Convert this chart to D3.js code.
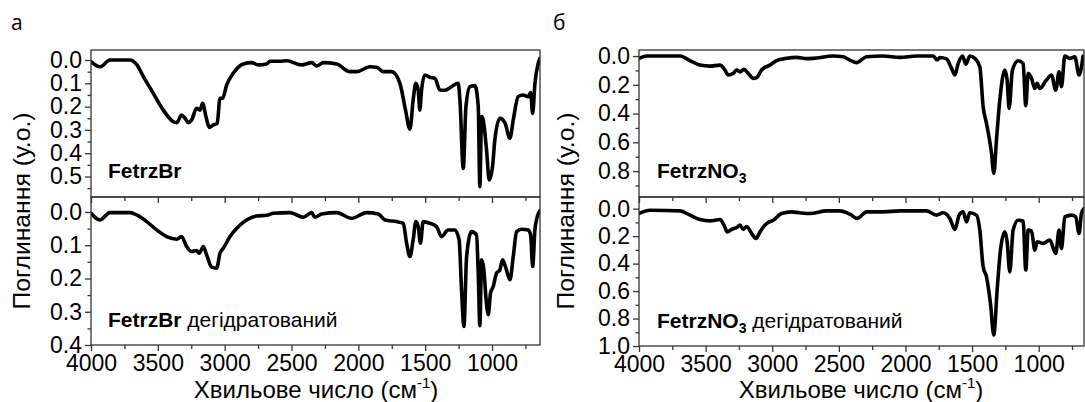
<!DOCTYPE html>
<html><head><meta charset="utf-8">
<script src="https://cdn.jsdelivr.net/npm/d3@7"></script>
<style>
body{margin:0;background:#fff}
svg{display:block}
text{font-family:"Liberation Sans",Arial,sans-serif;fill:#000}
</style>
</head><body>
<svg id="c" width="1085" height="402"></svg>
<script>
// ---------------- DATA ----------------
const xMajorTicks = [4000, 3500, 3000, 2500, 2000, 1500, 1000];
const xMinorTicks = [3750, 3250, 2750, 2250, 1750, 1250, 750];

const brTicks = [0.0, 0.1, 0.2, 0.3, 0.4, 0.5];
const brMinor = [0.05, 0.15, 0.25, 0.35, 0.45, 0.55];
const brDehTicks = [0.0, 0.1, 0.2, 0.3, 0.4];
const brDehMinor = [0.05, 0.15, 0.25, 0.35];
const no3Ticks = [0.0, 0.2, 0.4, 0.6, 0.8];
const no3Minor = [0.1, 0.3, 0.5, 0.7, 0.9];
const no3DehTicks = [0.0, 0.2, 0.4, 0.6, 0.8, 1.0];
const no3DehMinor = [0.1, 0.3, 0.5, 0.7, 0.9];

// FetrzBr
const brWn = [4000,3933,3858,3708,3658,3609,3534,3459,3384,3359,3322,3297,3272,3247,3210,3185,3165,3140,3115,3086,3056,3035,3015,2985,2936,2861,2798,2749,2686,2661,2587,2536,2424,2349,2312,2262,2162,2063,2013,1913,1863,1813,1751,1689,1647,1614,1590,1570,1552,1540,1527,1502,1465,1427,1390,1352,1302,1253,1240,1215,1195,1165,1128,1103,1091,1078,1066,1041,1021,996,979,941,904,866,841,804,767,729,711,696,679,654,642];
const brAbs = [0.007,0.029,0.0,0.0,0.02,0.07,0.143,0.215,0.265,0.269,0.236,0.25,0.269,0.257,0.207,0.215,0.186,0.243,0.289,0.279,0.272,0.164,0.164,0.107,0.057,0.017,0.011,0.021,0.017,0.005,0.005,0.003,0.021,0.011,0.026,0.011,0.017,0.05,0.05,0.029,0.031,0.05,0.05,0.1,0.215,0.297,0.172,0.1,0.129,0.215,0.129,0.064,0.074,0.079,0.129,0.13,0.114,0.1,0.172,0.465,0.2,0.114,0.11,0.2,0.544,0.243,0.257,0.386,0.515,0.458,0.343,0.25,0.269,0.336,0.257,0.157,0.15,0.157,0.14,0.229,0.1,0.014,-0.007];

// FetrzBr dehydrated
const brDehWn = [4000,3933,3858,3708,3658,3583,3509,3434,3359,3322,3285,3247,3210,3190,3160,3135,3097,3060,3035,3010,2960,2910,2836,2761,2686,2636,2511,2412,2349,2325,2275,2162,2050,1938,1851,1801,1714,1664,1639,1614,1590,1570,1552,1535,1515,1465,1415,1378,1328,1278,1246,1228,1210,1190,1153,1116,1103,1091,1078,1061,1046,1028,1011,991,966,941,921,896,866,841,816,779,729,711,696,679,661,642];
const brDehAbs = [0.004,0.024,0.002,0.002,0.009,0.029,0.054,0.074,0.082,0.074,0.104,0.119,0.116,0.124,0.104,0.129,0.166,0.169,0.124,0.109,0.074,0.049,0.024,0.012,0.01,0.004,0.002,0.016,0.002,0.016,0.006,0.002,0.019,0.002,0.006,0.024,0.029,0.034,0.094,0.134,0.084,0.029,0.044,0.094,0.029,0.034,0.044,0.074,0.054,0.054,0.084,0.234,0.344,0.134,0.059,0.069,0.184,0.342,0.144,0.174,0.254,0.309,0.244,0.224,0.184,0.174,0.144,0.169,0.204,0.134,0.059,0.052,0.054,0.069,0.164,0.054,0.014,-0.004];

// FetrzNO3
const no3Wn = [4000,3942,3692,3617,3542,3467,3392,3355,3330,3292,3267,3242,3212,3180,3142,3117,3080,3017,2967,2892,2817,2742,2692,2542,2467,2417,2367,2292,2167,2042,1917,1792,1762,1742,1692,1654,1629,1604,1572,1547,1517,1479,1442,1417,1392,1354,1337,1317,1292,1254,1237,1222,1197,1154,1117,1097,1079,1054,1029,1012,992,942,904,872,847,829,804,767,729,697,667];
const no3Abs = [0.016,0.0,0.0,0.032,0.063,0.07,0.063,0.097,0.132,0.12,0.097,0.11,0.093,0.12,0.155,0.15,0.097,0.063,0.032,0.016,0.009,0.018,0.016,0.0,0.005,0.028,0.046,0.005,0.0,0.009,0.0,0.0,0.028,0.01,0.02,0.086,0.132,0.051,0.0,0.056,0.0,0.016,0.074,0.353,0.468,0.677,0.816,0.584,0.306,0.097,0.167,0.364,0.097,0.033,0.051,0.345,0.12,0.155,0.225,0.19,0.225,0.167,0.132,0.237,0.109,0.213,0.0,0.016,0.005,0.132,0.0];

// FetrzNO3 dehydrated
const no3DehWn = [4000,3917,3692,3617,3542,3467,3392,3362,3337,3305,3267,3242,3217,3192,3155,3122,3092,3042,2992,2930,2855,2792,2717,2592,2492,2417,2362,2292,2167,2042,1842,1767,1717,1667,1629,1597,1567,1542,1517,1467,1442,1417,1392,1362,1337,1312,1287,1254,1237,1217,1192,1154,1117,1097,1079,1054,1029,1012,967,917,872,847,829,804,754,722,697,679,660];
const no3DehAbs = [0.035,0.011,0.016,0.047,0.079,0.089,0.079,0.12,0.169,0.151,0.137,0.12,0.151,0.13,0.18,0.217,0.169,0.108,0.084,0.035,0.023,0.03,0.035,0.016,0.016,0.04,0.071,0.023,0.023,0.016,0.016,0.047,0.03,0.071,0.151,0.047,0.023,0.096,0.03,0.047,0.156,0.423,0.496,0.69,0.92,0.593,0.302,0.169,0.24,0.46,0.156,0.084,0.089,0.447,0.156,0.163,0.302,0.241,0.253,0.229,0.326,0.156,0.29,0.06,0.047,0.06,0.18,0.035,0.0];

// ---------------- DRAW ----------------
const svg = d3.select("#c");
const FS = 23;
const axisColor = "#333";

function styleAxis(g) {
  g.select(".domain").remove();
  g.selectAll(".tick line").attr("stroke", axisColor).attr("stroke-width", 1.3);
  g.selectAll(".tick text").attr("font-size", FS).attr("font-family", '"Liberation Sans",Arial,sans-serif').attr("fill", "#000");
}

let clipId = 0;
function panel(opts) {
  const {x, y, wn, abs, yTicks, yMinor, xLabels} = opts;
  const [x0, x1] = x.range();
  const [y0, y1] = y.range(); // [top, bottom]
  const g = svg.append("g");

  // y axis
  g.append("g").attr("transform", `translate(${x0},0)`)
    .call(d3.axisLeft(y).tickValues(yMinor).tickSize(3.5).tickFormat(""))
    .call(styleAxis);
  g.append("g").attr("transform", `translate(${x0},0)`)
    .call(d3.axisLeft(y).tickValues(yTicks).tickSize(6).tickPadding(3).tickFormat(d3.format(".1f")))
    .call(styleAxis);

  // x axis
  g.append("g").attr("transform", `translate(0,${y1})`)
    .call(d3.axisBottom(x).tickValues(xMinorTicks).tickSize(4).tickFormat(""))
    .call(styleAxis);
  g.append("g").attr("transform", `translate(0,${y1})`)
    .call(d3.axisBottom(x).tickValues(xMajorTicks).tickSize(6).tickPadding(4)
      .tickFormat(xLabels ? d3.format("d") : ""))
    .call(styleAxis);

  // curve
  const id = "clip" + (clipId++);
  svg.append("clipPath").attr("id", id).append("rect")
    .attr("x", x0).attr("y", y0).attr("width", x1 - x0).attr("height", y1 - y0);
  const pts = wn.map((w, i) => [w, abs[i]]);
  g.append("path").datum(pts)
    .attr("clip-path", `url(#${id})`)
    .attr("fill", "none").attr("stroke", "#000").attr("stroke-width", 3.6)
    .attr("stroke-linejoin", "round").attr("stroke-linecap", "round")
    .attr("d", d3.line().x(d => x(d[0])).y(d => y(d[1])).curve(d3.curveMonotoneX));

  // frame
  g.append("rect").attr("x", x0).attr("y", y0).attr("width", x1 - x0).attr("height", y1 - y0)
    .attr("fill", "none").attr("stroke", axisColor).attr("stroke-width", 1.3);
  return g;
}

const xLeft = d3.scaleLinear().domain([4000, 641]).range([91, 540]);
const xRight = d3.scaleLinear().domain([4000, 660]).range([639, 1084]);

panel({x: xLeft, y: d3.scaleLinear().domain([-0.043, 0.588]).range([50, 197]),
  wn: brWn, abs: brAbs, yTicks: brTicks, yMinor: brMinor, xLabels: false});
panel({x: xLeft, y: d3.scaleLinear().domain([-0.045, 0.4]).range([197, 345]),
  wn: brDehWn, abs: brDehAbs, yTicks: brDehTicks, yMinor: brDehMinor, xLabels: true});
panel({x: xRight, y: d3.scaleLinear().domain([-0.042, 0.98]).range([50, 197]),
  wn: no3Wn, abs: no3Abs, yTicks: no3Ticks, yMinor: no3Minor, xLabels: false});
panel({x: xRight, y: d3.scaleLinear().domain([-0.085, 1.0]).range([197, 346]),
  wn: no3DehWn, abs: no3DehAbs, yTicks: no3DehTicks, yMinor: no3DehMinor, xLabels: true});

// panel letters
svg.append("text").attr("x", 11).attr("y", 30).attr("font-size", 21)
  .style("font-family", '"Open Sans",sans-serif').text("а");
svg.append("text").attr("x", 553).attr("y", 30).attr("font-size", 21)
  .style("font-family", '"Open Sans",sans-serif').text("б");

// y titles
[[30, 211], [574, 211]].forEach(([tx, ty]) => {
  svg.append("text").attr("transform", `translate(${tx},${ty}) rotate(-90)`)
    .attr("text-anchor", "middle").attr("font-size", 24)
    .attr("textLength", 197).attr("lengthAdjust", "spacingAndGlyphs")
    .text("Поглинання (у.о.)");
});

// x titles
[316, 861].forEach(cx => {
  const t = svg.append("text").attr("x", cx).attr("y", 398).attr("text-anchor", "middle").attr("font-size", 24);
  t.append("tspan").text("Хвильове число (см");
  t.append("tspan").attr("font-size", 15).attr("dy", -10).text("-1");
  t.append("tspan").attr("dy", 10).text(")");
});

// inner labels
function inner(x, y, main, sub, rest) {
  const t = svg.append("text").attr("x", x).attr("y", y).attr("font-size", 21);
  t.append("tspan").attr("font-weight", "bold").text(main);
  if (sub) {
    t.append("tspan").attr("font-weight", "bold").attr("font-size", 14).attr("dy", 5).text(sub);
    if (rest) t.append("tspan").attr("dy", -5).text(rest);
  } else if (rest) {
    t.append("tspan").text(rest);
  }
}
inner(108, 178, "FetrzBr", null, null);
inner(108, 327, "FetrzBr", null, " дегідратований");
inner(657, 178, "FetrzNO", "3", null);
inner(657, 328, "FetrzNO", "3", " дегідратований");
</script>
</body></html>
